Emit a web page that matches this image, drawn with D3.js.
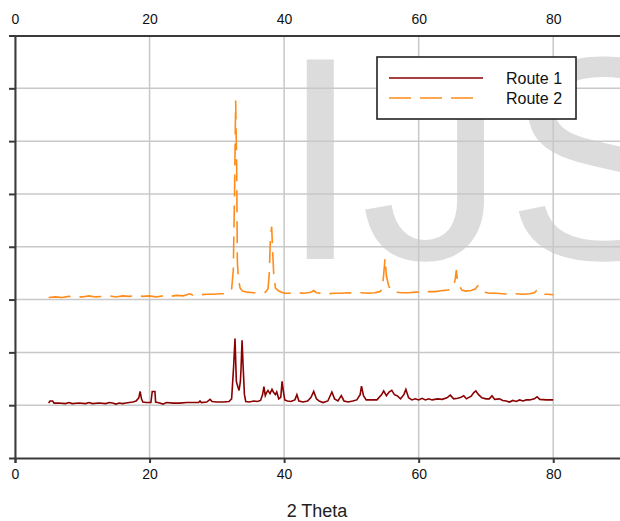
<html>
<head>
    <title>XRD routes</title>
    <script src="https://d3js.org/d3.v7.min.js" charset="utf-8"></script>
    <style>
        body {
            margin: 0;
            background: #fff;
            font-family: "Liberation Sans", Arial, sans-serif;
        }
        .tick text {
            font-size: 14px;
            fill: #111;
        }
    </style>
</head>
<body>
    <script>
    // 2 theta positions and intensities (stacked offsets)
    var theta1 = [5.0, 5.2, 5.6, 5.8, 6.5, 7.5, 8.0, 8.5, 9.5, 10.5, 11.0, 11.5, 12.5, 13.5, 14.0, 14.5, 15.0, 15.5, 16.0, 16.5,
        17.0, 17.5, 18.0, 18.4, 18.6, 18.8, 19.0, 19.5, 20.2, 20.4, 20.8, 20.9, 21.5, 22.0, 22.5, 23.5, 24.5, 25.5, 26.5, 27.3,
        27.5, 27.7, 28.5, 29.0, 29.3, 30.0, 31.0, 31.8, 32.2, 32.5, 32.7, 32.9, 33.1, 33.3, 33.5, 33.6, 33.75, 33.9, 34.1, 34.3,
        34.8, 35.5, 36.0, 36.5, 36.8, 37.0, 37.2, 37.4, 37.6, 37.9, 38.2, 38.4, 38.7, 38.9, 39.2, 39.5, 39.7, 39.9, 40.1, 40.5,
        41.0, 41.6, 41.9, 42.2, 42.8, 43.5, 44.0, 44.4, 44.8, 45.2, 45.8, 46.5, 47.1, 47.5, 48.0, 48.5, 48.9, 49.5, 50.2, 50.8,
        51.3, 51.5, 51.8, 52.2, 53.0, 53.8, 54.5, 54.8, 55.2, 55.6, 56.0, 56.4, 56.8, 57.3, 57.8, 58.1, 58.5, 59.0, 59.5, 60.0,
        60.5, 61.0, 61.5, 62.0, 62.8, 63.5, 64.2, 64.7, 65.2, 65.8, 66.3, 66.7, 67.1, 67.8, 68.2, 68.5, 68.9, 69.4, 70.0, 70.5,
        70.9, 71.3, 72.0, 72.5, 73.0, 73.5, 74.0, 74.5, 75.0, 75.5, 76.0, 76.5, 77.2, 77.6, 78.0, 79.0, 80.0];
    var route1 = [1.04, 1.08, 1.08, 1.04, 1.04, 1.03, 1.05, 1.03, 1.04, 1.03, 1.05, 1.03, 1.04, 1.03, 1.05, 1.04, 1.02, 1.04, 1.03, 1.04,
        1.05, 1.06, 1.08, 1.14, 1.26, 1.12, 1.06, 1.05, 1.05, 1.26, 1.26, 1.06, 1.04, 1.02, 1.05, 1.04, 1.04, 1.05, 1.05, 1.05,
        1.08, 1.05, 1.06, 1.11, 1.07, 1.06, 1.06, 1.07, 1.12, 1.74, 2.26, 1.45, 1.36, 1.28, 1.45, 1.70, 2.23, 1.76, 1.20, 1.07,
        1.06, 1.08, 1.07, 1.09, 1.20, 1.35, 1.18, 1.24, 1.28, 1.22, 1.30, 1.25, 1.20, 1.25, 1.12, 1.15, 1.45, 1.25, 1.10, 1.08,
        1.07, 1.10, 1.20, 1.08, 1.06, 1.08, 1.15, 1.26, 1.12, 1.08, 1.05, 1.08, 1.25, 1.12, 1.08, 1.18, 1.08, 1.06, 1.08, 1.10,
        1.20, 1.36, 1.18, 1.10, 1.10, 1.10, 1.20, 1.27, 1.18, 1.25, 1.28, 1.20, 1.18, 1.12, 1.20, 1.30, 1.14, 1.10, 1.12, 1.10,
        1.13, 1.10, 1.12, 1.10, 1.12, 1.11, 1.14, 1.19, 1.12, 1.13, 1.15, 1.18, 1.12, 1.17, 1.24, 1.27, 1.20, 1.14, 1.12, 1.12,
        1.18, 1.11, 1.12, 1.09, 1.08, 1.06, 1.09, 1.07, 1.10, 1.08, 1.10, 1.10, 1.12, 1.16, 1.11, 1.10, 1.10];

    var theta2 = [5.0, 6.0, 7.0, 8.0, 9.0, 10.0, 11.0, 12.0, 13.0, 14.0, 15.0, 16.0, 17.0, 18.0, 19.0, 20.0, 21.0, 22.0, 23.0, 24.0,
        25.0, 26.0, 26.5, 27.5, 28.5, 29.5, 30.5, 31.2, 31.8, 32.2, 32.45, 32.65, 32.8, 32.95, 33.05, 33.2, 33.45, 33.8, 34.5, 35.5,
        36.5, 37.2, 37.6, 37.8, 37.95, 38.15, 38.3, 38.45, 38.7, 39.2, 40.0, 41.0, 42.0, 43.0, 44.0, 44.4, 44.8, 45.5, 46.5, 47.5,
        48.5, 49.5, 50.5, 51.5, 52.5, 53.5, 54.2, 54.5, 54.75, 55.0, 55.2, 55.5, 55.8, 56.5, 57.5, 58.5, 59.5, 60.5, 61.5, 62.5,
        63.5, 64.3, 64.8, 65.2, 65.45, 65.6, 65.75, 65.9, 66.4, 67.0, 67.8, 68.4, 68.8, 69.2, 69.8, 70.5, 71.5, 72.5, 73.5, 74.5,
        75.5, 76.5, 77.2, 77.5, 77.9, 78.5, 79.2, 80.0];
    var route2 = [3.04, 3.05, 3.04, 3.06, 3.05, 3.05, 3.07, 3.05, 3.06, 3.07, 3.05, 3.07, 3.06, 3.08, 3.06, 3.07, 3.05, 3.07, 3.06, 3.08,
        3.07, 3.11, 3.08, 3.09, 3.10, 3.10, 3.11, 3.11, 3.14, 3.20, 3.56, 5.20, 6.77, 5.50, 3.72, 3.40, 3.22, 3.16, 3.14, 3.13,
        3.12, 3.14, 3.20, 3.50, 4.13, 4.38, 3.90, 3.50, 3.22, 3.16, 3.12, 3.12, 3.13, 3.12, 3.14, 3.17, 3.13, 3.12, 3.11, 3.12,
        3.12, 3.13, 3.12, 3.13, 3.12, 3.13, 3.15, 3.18, 3.40, 3.78, 3.45, 3.28, 3.18, 3.14, 3.13, 3.13, 3.14, 3.14, 3.15, 3.15,
        3.17, 3.18, 3.20, 3.24, 3.40, 3.56, 3.38, 3.31, 3.18, 3.16, 3.17, 3.20, 3.26, 3.18, 3.14, 3.12, 3.12, 3.11, 3.10, 3.11,
        3.10, 3.11, 3.13, 3.17, 3.12, 3.10, 3.10, 3.09];

    var xTicks = [0, 20, 40, 60, 80];
    var yTicks = [1, 2, 3, 4, 5, 6, 7, 8];
    var seriesNames = ["Route 1", "Route 2"];
    var seriesColors = ["#8b0000", "#ff8c1a"];

    var width = 620;
    var height = 521;

    var svg = d3.select("body")
        .append("svg")
        .attr("width", width)
        .attr("height", height);

    var x = d3.scaleLinear()
        .domain([0, 90])
        .range([15, 620.5]);

    var y = d3.scaleLinear()
        .domain([0, 8])
        .range([458, 35.5]);

    // watermark behind everything
    svg.append("text")
        .attr("x", 280)
        .attr("y", 259)
        .attr("font-size", 290)
        .attr("fill", "#dcdcdc")
        .text("IJS");

    // grid
    svg.append("g")
        .selectAll("line")
        .data(xTicks)
        .enter()
        .append("line")
        .attr("x1", function(d) { return x(d); })
        .attr("x2", function(d) { return x(d); })
        .attr("y1", y(8))
        .attr("y2", y(0))
        .attr("stroke", "#c8c8c8")
        .attr("stroke-width", 1.5);

    svg.append("g")
        .selectAll("line")
        .data(yTicks.slice(0, -1))
        .enter()
        .append("line")
        .attr("x1", x(0))
        .attr("x2", x(90))
        .attr("y1", function(d) { return y(d); })
        .attr("y2", function(d) { return y(d); })
        .attr("stroke", "#c8c8c8")
        .attr("stroke-width", 1.5);

    // axes
    var axisBottomG = svg.append("g")
        .attr("transform", "translate(0," + y(0) + ")")
        .call(d3.axisBottom(x).tickValues(xTicks).tickSize(5).tickPadding(6));

    var axisTopG = svg.append("g")
        .attr("transform", "translate(0," + y(8) + ")")
        .call(d3.axisTop(x).tickValues(xTicks).tickSize(0).tickPadding(12));

    var axisLeftG = svg.append("g")
        .attr("transform", "translate(" + x(0) + ",0)")
        .call(d3.axisLeft(y).tickValues(yTicks).tickSize(6).tickFormat(""));

    [axisBottomG, axisTopG, axisLeftG].forEach(function(a) {
        a.select(".domain").attr("stroke", "#3a3a3a").attr("stroke-width", 2);
        a.selectAll(".tick line").attr("stroke", "#3a3a3a").attr("stroke-width", 2);
        a.selectAll(".tick text").attr("font-family", "Liberation Sans, Arial, sans-serif");
    });

    svg.append("text")
        .attr("x", 317)
        .attr("y", 517)
        .attr("text-anchor", "middle")
        .attr("font-size", 18)
        .attr("fill", "#222")
        .text("2 Theta");

    // data lines
    var line = d3.line()
        .x(function(d) { return x(d[0]); })
        .y(function(d) { return y(d[1]); });

    svg.append("path")
        .datum(d3.zip(theta1, route1))
        .attr("fill", "none")
        .attr("stroke", seriesColors[0])
        .attr("stroke-width", 1.6)
        .attr("d", line);

    svg.append("path")
        .datum(d3.zip(theta2, route2))
        .attr("fill", "none")
        .attr("stroke", seriesColors[1])
        .attr("stroke-width", 1.6)
        .attr("stroke-dasharray", "22,9")
        .attr("d", line);

    // legend
    var legend = svg.append("g");
    legend.append("rect")
        .attr("x", 377)
        .attr("y", 57)
        .attr("width", 199)
        .attr("height", 62)
        .attr("fill", "#fff")
        .attr("stroke", "#222")
        .attr("stroke-width", 1.6);

    seriesNames.forEach(function(name, i) {
        var ly = 78 + i * 20;
        legend.append("line")
            .attr("x1", 389)
            .attr("x2", i == 1 ? 474 : 483)
            .attr("y1", ly)
            .attr("y2", ly)
            .attr("stroke", seriesColors[i])
            .attr("stroke-width", 1.6)
            .attr("stroke-dasharray", i == 1 ? "22,9" : null);
        legend.append("text")
            .attr("x", 506)
            .attr("y", ly + 5.5)
            .attr("font-size", 16)
            .attr("fill", "#111")
            .text(name);
    });
    </script>
</body>
</html>
